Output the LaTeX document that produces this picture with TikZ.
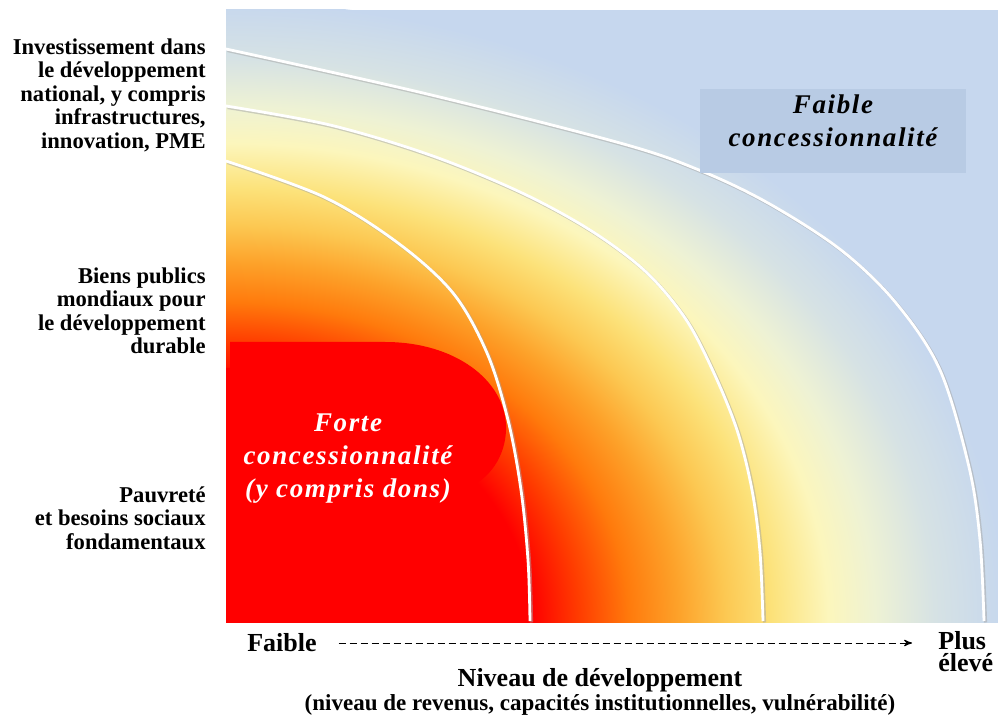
\documentclass[tikz,border=0pt]{standalone}
\usepackage{fontspec}
\setmainfont{Liberation Serif}
\newfontfamily\spacedfont[LetterSpace=6]{Liberation Serif}
\usetikzlibrary{arrows,positioning}
\definecolor{skyblue}{RGB}{198,215,238}
\definecolor{boxblue}{RGB}{184,203,228}
\definecolor{heatA}{RGB}{255,60,0}
\definecolor{heatB}{RGB}{255,122,12}
\definecolor{heatC}{RGB}{253,162,42}
\definecolor{heatD}{RGB}{252,200,82}
\definecolor{heatE}{RGB}{252,226,122}
\definecolor{heatF}{RGB}{252,246,188}
\definecolor{heatG}{RGB}{238,242,212}
\definecolor{heatH}{RGB}{214,226,228}
\pgfdeclareradialshading{heat}{\pgfpoint{0bp}{0bp}}{color(0bp)=(red); color(9.8bp)=(red);
 color(11.3bp)=(heatA); color(12.9bp)=(heatB); color(14.5bp)=(heatC); color(16bp)=(heatD);
 color(17.5bp)=(heatE); color(19.3bp)=(heatF); color(20.8bp)=(heatG); color(22.7bp)=(heatH);
 color(25bp)=(skyblue); color(50bp)=(skyblue)}
\tikzset{
 >=stealth',
 leftlabel/.style={font=\bfseries\fontsize{11.3}{11.75}\selectfont, align=right, anchor=north east, inner sep=0pt},
 zonelabel/.style={font=\spacedfont\bfseries\itshape\fontsize{13.5}{16.5}\selectfont, align=center, inner sep=0pt},
 axislabel/.style={font=\bfseries\fontsize{13}{13}\selectfont, align=center},
 ringshadow/.style={draw=black!35, line width=1.6pt, opacity=.5, shift={(1.5,1.5)}},
 ring/.style={draw=white, line width=1.4pt}
}
\begin{document}
\begin{tikzpicture}[x=0.5pt,y=-0.5pt]
\useasboundingbox (0,0) rectangle (998,717);
%\draw[red] (0,0) rectangle (998,717);

% plot area
\fill[skyblue] (226,10) rectangle (998,622);
\begin{scope}
\clip (226,10) rectangle (998,622);
\shade[shading=heat] (226,622) ellipse [x radius=780, y radius=620];
\end{scope}

% red zone
\fill[red] (230,342) -- (385,342) .. controls (455,342) and (504,380) .. (506,425)
 .. controls (507,452) and (493,475) .. (472,486) -- (472,510) -- (226,510) -- (226,368) -- (230,368) -- cycle;

% rings
\draw[ringshadow] plot[smooth,tension=.55] coordinates {(226,161) (324,197) (398,243) (453,293) (487,353) (508,420) (521,490) (528,560) (530,621)};
\draw[ring] plot[smooth,tension=.55] coordinates {(226,161) (324,197) (398,243) (453,293) (487,353) (508,420) (521,490) (528,560) (530,621)};
\draw[ringshadow] plot[smooth,tension=.55] coordinates {(226,106) (330,125) (430,155) (520,192) (590,230) (645,271) (685,318) (713,371) (737,430) (752,490) (760,552) (763,621)};
\draw[ring] plot[smooth,tension=.55] coordinates {(226,106) (330,125) (430,155) (520,192) (590,230) (645,271) (685,318) (713,371) (737,430) (752,490) (760,552) (763,621)};
\draw[ringshadow] plot[smooth,tension=.55] coordinates {(226,49) (423,93) (620,143) (699,170) (768,203) (841,250) (896,303) (940,370) (969,467) (980,540) (984,621)};
\draw[ring] plot[smooth,tension=.55] coordinates {(226,49) (423,93) (620,143) (699,170) (768,203) (841,250) (896,303) (940,370) (969,467) (980,540) (984,621)};

% zone labels
\path (833,131) node[name=faiblebox, fill=boxblue, minimum width=133pt, minimum height=42pt] {};
\path (faiblebox.center)+(0,-10) node[name=faibletext, zonelabel] {Faible\\concessionnalité};
\path (348,459) node[name=forte, zonelabel, text=white] {Forte\\concessionnalité\\(y compris dons)};

% left labels
\path (206,38) node[name=invest, leftlabel] {Investissement dans\\le développement\\national, y compris\\infrastructures,\\innovation, PME};
\path (206,267) node[name=biens, leftlabel] {Biens publics\\mondiaux pour\\le développement\\durable};
\path (206,486) node[name=pauvrete, leftlabel] {Pauvreté\\et besoins sociaux\\fondamentaux};

% axis
\path (282,643) node[name=faible, axislabel] {Faible};
\path (938,652) node[name=plus, anchor=west, inner sep=0pt, align=left, font=\bfseries\fontsize{13}{11}\selectfont] {Plus\\élevé};
\path[->, dash pattern=on 3.5pt off 2pt, line width=.5pt, shorten <=7.5pt, shorten >=13pt] (faible) edge (faible -| plus.west);
\path (600,680) node[name=niveau, font=\bfseries\fontsize{13}{13}\selectfont] {Niveau de développement};
\path (600,705) node[name=niveausub, font=\bfseries\fontsize{11.5}{11.5}\selectfont] {(niveau de revenus, capacités institutionnelles, vulnérabilité)};
\end{tikzpicture}
\end{document}
